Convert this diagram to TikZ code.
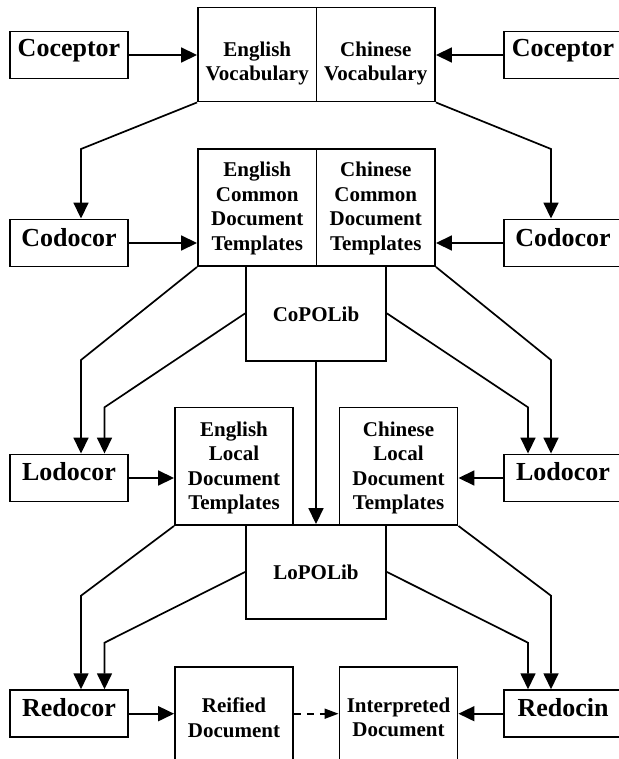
\documentclass[tikz,border=0pt]{standalone}
\usepackage{fontspec}
\setmainfont{Liberation Serif}
\usetikzlibrary{arrows.meta}
\begin{document}
\begin{tikzpicture}[x=1pt,y=-1pt,
  box/.style={draw, line width=1.9pt, inner sep=0pt, minimum width=118pt, minimum height=47pt},
  bigtxt/.style={inner sep=0pt, anchor=base, font=\fontsize{26}{30}\selectfont\bfseries},
  smalltxt/.style={inner sep=0pt, align=center, font=\fontsize{21}{24.5}\selectfont\bfseries},
  arr/.style={line width=1.7pt, -{Triangle[length=16pt,width=15pt]}},
  darr/.style={line width=1.7pt, dash pattern=on 7pt off 6pt, -{Triangle[length=14pt,width=10pt]}}]
\useasboundingbox (0,0) rectangle (618,759);
% ---- boxes ----
\node[box] (cocL) at (69,55) {};
\node[box, minimum width=118.5pt, minimum height=94pt] (engVoc) at (257.25,54.5) {};
\node[box, minimum width=118.5pt, minimum height=94pt] (chnVoc) at (375.75,54.5) {};
\node[box] (cocR) at (563,55) {};
\node[box] (codL) at (69,243) {};
\node[box, minimum width=118.5pt, minimum height=117pt] (engCom) at (257.25,207.5) {};
\node[box, minimum width=118.5pt, minimum height=117pt] (chnCom) at (375.75,207.5) {};
\node[box] (codR) at (563,243) {};
\node[box, minimum width=140pt, minimum height=94.7pt] (copolib) at (316,313.4) {};
\node[box] (lodL) at (69,478) {};
\node[box, minimum height=117.5pt] (engLoc) at (234,466.25) {};
\node[box, minimum height=117.5pt] (chnLoc) at (398.5,466.25) {};
\node[box] (lodR) at (563,478) {};
\node[box, minimum width=140pt, minimum height=94pt] (lopolib) at (316,572) {};
\node[box] (redL) at (69,713.7) {};
\node[box, minimum height=101pt] (reified) at (234,717.3) {};
\node[box, minimum height=101pt] (interp) at (398.5,717.3) {};
\node[box] (redR) at (563,713.7) {};
% ---- texts ----
\node[bigtxt] (tCocL) at (69,57) {Coceptor};
\node[bigtxt] (tCocR) at (563,57) {Coceptor};
\node[bigtxt] (tCodL) at (69,246.5) {Codocor};
\node[bigtxt] (tCodR) at (563,246.5) {Codocor};
\node[bigtxt] (tLodL) at (69,480.7) {Lodocor};
\node[bigtxt] (tLodR) at (563,480.7) {Lodocor};
\node[bigtxt] (tRedL) at (69,716) {Redocor};
\node[bigtxt] (tRedR) at (563,716) {Redocin};
\node[smalltxt] (tEngVoc) at (257.25,63.5) {English\\Vocabulary};
\node[smalltxt] (tChnVoc) at (375.75,63.5) {Chinese\\Vocabulary};
\node[smalltxt] (tEngCom) at (257.25,208.5) {English\\Common\\Document\\Templates};
\node[smalltxt] (tChnCom) at (375.75,208.5) {Chinese\\Common\\Document\\Templates};
\node[smalltxt] (tCopolib) at (316,314) {CoPOLib};
\node[smalltxt] (tEngLoc) at (234,468) {English\\Local\\Document\\Templates};
\node[smalltxt] (tChnLoc) at (398.5,468) {Chinese\\Local\\Document\\Templates};
\node[smalltxt] (tLopolib) at (316,572) {LoPOLib};
\node[smalltxt] (tReified) at (234,717.5) {Reified\\Document};
\node[smalltxt] (tInterp) at (398.5,717.5) {Interpreted\\Document};
% ---- bend points ----
\coordinate (k1) at (81,149);
\coordinate (k2) at (551,149);
\coordinate (k3) at (81,360);
\coordinate (k4) at (104.5,407.3);
\coordinate (k5) at (551,360);
\coordinate (k6) at (528,407.3);
\coordinate (k7) at (81,595.7);
\coordinate (k8) at (104.5,642.7);
\coordinate (k9) at (551,595.7);
\coordinate (k10) at (528,642.7);
% ---- connectors ----
\draw[arr] (cocL.east) -- (cocL.east -| engVoc.west);
\draw[arr] (cocR.west) -- (cocR.west -| chnVoc.east);
\draw[arr] (engVoc.south west) -- (k1) -- (k1 |- codL.north);
\draw[arr] (chnVoc.south east) -- (k2) -- (k2 |- codR.north);
\draw[arr] (codL.east) -- (codL.east -| engCom.west);
\draw[arr] (codR.west) -- (codR.west -| chnCom.east);
\draw[arr] (engCom.south west) -- (k3) -- (k3 |- lodL.north);
\draw[arr] (copolib.west) -- (k4) -- (k4 |- lodL.north);
\draw[arr] (chnCom.south east) -- (k5) -- (k5 |- lodR.north);
\draw[arr] (copolib.east) -- (k6) -- (k6 |- lodR.north);
\draw[arr] (copolib.south) -- (lopolib.north);
\draw[arr] (lodL.east) -- (lodL.east -| engLoc.west);
\draw[arr] (lodR.west) -- (lodR.west -| chnLoc.east);
\draw[arr] (engLoc.south west) -- (k7) -- (k7 |- redL.north);
\draw[arr] (lopolib.west) -- (k8) -- (k8 |- redL.north);
\draw[arr] (chnLoc.south east) -- (k9) -- (k9 |- redR.north);
\draw[arr] (lopolib.east) -- (k10) -- (k10 |- redR.north);
\draw[arr] (redL.east) -- (redL.east -| reified.west);
\draw[darr] (reified.east |- redL.east) -- (interp.west |- redL.east);
\draw[arr] (redR.west) -- (redR.west -| interp.east);
\end{tikzpicture}
\end{document}
